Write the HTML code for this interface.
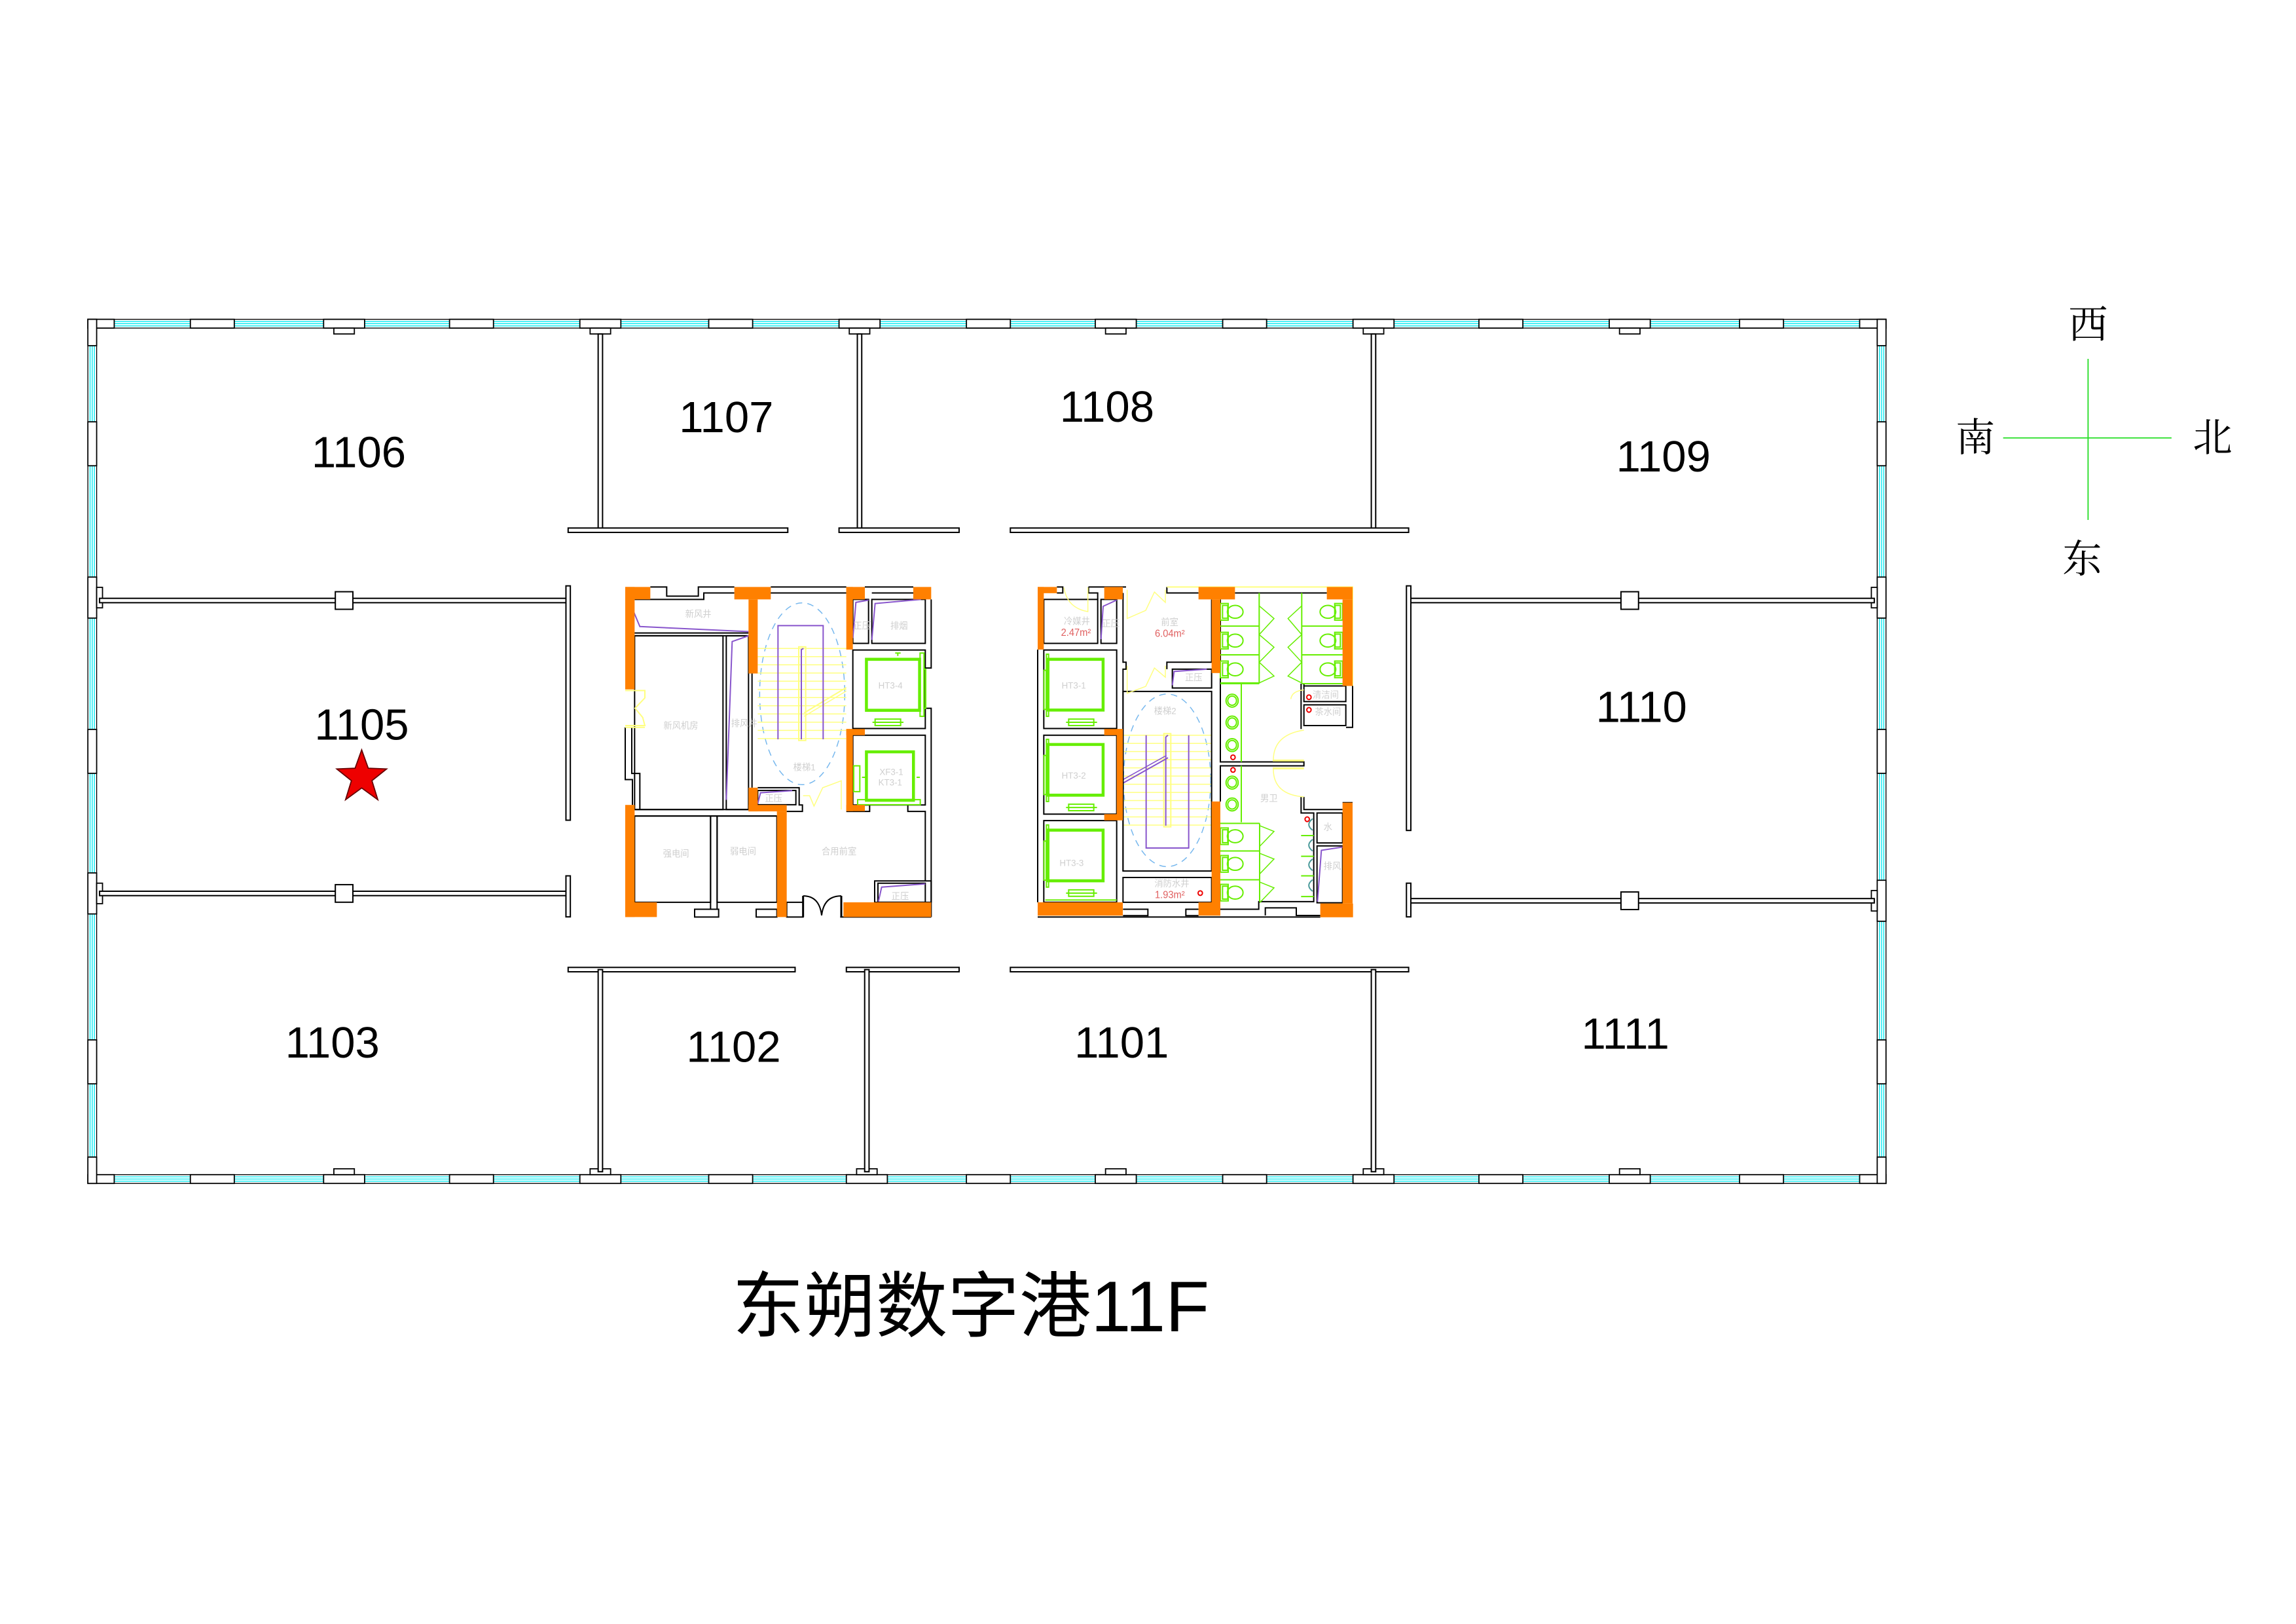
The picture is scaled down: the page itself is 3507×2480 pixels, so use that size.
<!DOCTYPE html>
<html><head><meta charset="utf-8">
<style>
html,body{margin:0;padding:0;background:#fff;}
svg{display:block;}
.t{font-family:"Liberation Sans","Noto Sans CJK SC",sans-serif;fill:#000;}
.s{font-family:"Liberation Serif","Noto Serif CJK SC",serif;fill:#000;}
.g{font-family:"Liberation Sans","Noto Sans CJK SC",sans-serif;fill:#cfcfcf;font-size:40px;}
.r{font-family:"Liberation Sans",sans-serif;fill:#e06060;font-size:44px;}
</style></head>
<body>
<svg id="s" width="3507" height="2480" viewBox="0 0 1568 1108.8" xmlns="http://www.w3.org/2000/svg">
<rect x="0" y="0" width="1568" height="1109" fill="#fff"/>
<g id="frame"></g>
<g id="walls" fill="#fff" stroke="#000" stroke-width="0.9"></g>
<g transform="scale(0.447106)">
 <g id="c1" transform="translate(950,890) scale(0.33333,0.3515)">
  <text class="g" x="290" y="150">新风井</text>
  <text class="g" x="190" y="635">新风机房</text>
  <text class="g" x="500" y="625">排风井</text>
  <text class="g" x="1060" y="200">正压</text>
  <text class="g" x="1230" y="200">排烟</text>
  <text class="g" x="1175" y="460">HT3-4</text>
  <text class="g" x="1180" y="835">XF3-1</text>
  <text class="g" x="1175" y="880">KT3-1</text>
  <text class="g" x="785" y="815">楼梯1</text>
  <text class="g" x="655" y="950">正压</text>
  <text class="g" x="188" y="1190">强电间</text>
  <text class="g" x="495" y="1180">弱电间</text>
  <text class="g" x="915" y="1180">合用前室</text>
  <text class="g" x="1235" y="1375">正压</text>
 </g>
 <g id="c2" transform="translate(1580,890) scale(0.33333,0.3515)">
  <text class="g" x="135" y="180">冷媒井</text>
  <text class="r" x="122" y="230">2.47m²</text>
  <text class="g" x="310" y="190">正压</text>
  <text class="g" x="580" y="185">前室</text>
  <text class="r" x="552" y="235">6.04m²</text>
  <text class="g" x="690" y="425">正压</text>
  <text class="g" x="125" y="460">HT3-1</text>
  <text class="g" x="125" y="850">HT3-2</text>
  <text class="g" x="115" y="1230">HT3-3</text>
  <text class="g" x="548" y="570">楼梯2</text>
  <text class="g" x="550" y="1320">消防水井</text>
  <text class="r" x="552" y="1370">1.93m²</text>
  <text class="g" x="1275" y="500">清洁间</text>
  <text class="g" x="1285" y="575">茶水间</text>
  <text class="g" x="1035" y="950">男卫</text>
  <text class="g" x="1325" y="1075">水</text>
  <text class="g" x="1325" y="1245">排风</text>
 </g>
</g>
<g class="t" font-size="30" text-anchor="middle">
<text x="245" y="319">1106</text>
<text x="496" y="295">1107</text>
<text x="756" y="288">1108</text>
<text x="1136" y="322">1109</text>
<text x="247" y="505">1105</text>
<text x="1121" y="493">1110</text>
<text x="227" y="722">1103</text>
<text x="501" y="725">1102</text>
<text x="766" y="722">1101</text>
<text x="1110" y="716">1111</text>
</g>
<polygon points="247,512 251.5,524.5 264,525 254,533 258,546 247,538 236,546 240,533 230,525 242.5,524.5" fill="#e00" stroke="#600" stroke-width="0.8"/>
<g stroke="#22dd22" stroke-width="0.8"><line x1="1426" y1="245" x2="1426" y2="355"/><line x1="1368" y1="299" x2="1483" y2="299"/></g>
<g class="s" font-size="27" text-anchor="middle">
<text x="1426" y="231">西</text>
<text x="1349" y="308">南</text>
<text x="1511" y="308">北</text>
<text x="1422" y="391">东</text>
</g>
<text x="663" y="909" class="t" font-size="49" text-anchor="middle">东朔数字港11F</text>
</svg>
<script>
var NS="http://www.w3.org/2000/svg";
function el(p,tag,a,first){var e=document.createElementNS(NS,tag);for(var k in a)e.setAttribute(k,a[k]);if(first)p.insertBefore(e,p.firstChild);else p.appendChild(e);return e;}
var F=document.getElementById('frame'),W=document.getElementById('walls');
function bandH(y,x1,x2){el(F,'rect',{x:x1,y:y,width:x2-x1,height:6,fill:'#fff',stroke:'#000','stroke-width':0.6});
 [1.5,3,4.5].forEach(function(o){el(F,'line',{x1:x1,y1:y+o,x2:x2,y2:y+o,stroke:'#00e8f0','stroke-width':0.6});});}
function bandV(x,y1,y2){el(F,'rect',{x:x,y:y1,width:6,height:y2-y1,fill:'#fff',stroke:'#000','stroke-width':0.6});
 [1.5,3,4.5].forEach(function(o){el(F,'line',{x1:x+o,y1:y1,x2:x+o,y2:y2,stroke:'#00e8f0','stroke-width':0.6});});}
bandH(218,60,1288);bandH(802,60,1288);bandV(60,218,808);bandV(1282,218,808);
function pier(x,y,w,h){el(F,'rect',{x:x,y:y,width:w,height:h,fill:'#fff',stroke:'#000','stroke-width':0.8});}
[130,307,484,660,835,1010,1188].forEach(function(x){pier(x,218,30,6);pier(x,802,30,6);});
function colT(x,top){var w=28;pier(x-w/2,top?218:802,w,6);pier(x-7,top?224:798,14,4);}
[235,410,587,762,938,1113].forEach(function(x){colT(x,true);});
[235,410,592,762,938,1113].forEach(function(x){colT(x,false);});
[288,498,710].forEach(function(y){pier(60,y,6,30);pier(1282,y,6,30);});
function colS(y,left){pier(left?60:1282,y-14,6,28);pier(left?66:1278,y-7,4,14);}
colS(408,true);colS(610,true);colS(408,false);colS(615,false);
pier(60,218,18,6);pier(60,218,6,18);pier(1270,218,18,6);pier(1282,218,6,18);
pier(60,802,18,6);pier(60,790,6,18);pier(1270,802,18,6);pier(1282,790,6,18);
function hw(y,x1,x2){el(W,'rect',{x:x1,y:y-1.5,width:x2-x1,height:3});}
function vw(x,y1,y2){el(W,'rect',{x:x-1.5,y:y1,width:3,height:y2-y1});}
vw(410,228,362);vw(587,228,362);vw(938,228,362);
hw(362,388,538);hw(362,573,655);hw(362,690,962);
hw(410,68,388);hw(610,68,388);vw(388,400,560);vw(388,598,626);
el(W,'rect',{x:229,y:404,width:12,height:12});el(W,'rect',{x:229,y:604,width:12,height:12});
hw(410,962,1280);hw(615,962,1280);vw(962,400,567);vw(962,603,626);
el(W,'rect',{x:1107,y:404,width:12,height:12});el(W,'rect',{x:1107,y:609,width:12,height:12});
hw(662,388,543);hw(662,578,655);hw(662,690,962);
vw(410,662,800);vw(592,662,800);vw(938,662,800);

var O='#ff8000',G='#66ee00',Y='#ffff80',P='#8855cc',B='#77b8ee',K='#000';
var g;
function R(x,y,w,h,s,f,sw){return el(g,'rect',{x:x,y:y,width:w,height:h,fill:f||'none',stroke:s||'none','stroke-width':sw||2,'vector-effect':'non-scaling-stroke'});}
function OR(x,y,w,h){R(x,y,w,h,null,O);}
function PL(pts,s,sw,dash){var a={points:pts,fill:'none',stroke:s||K,'stroke-width':sw||2,'vector-effect':'non-scaling-stroke'};if(dash)a['stroke-dasharray']=dash;return el(g,'polyline',a);}
function E(cx,cy,rx,ry,s,sw,dash){var a={cx:cx,cy:cy,rx:rx,ry:ry,fill:'none',stroke:s,'stroke-width':sw||2,'vector-effect':'non-scaling-stroke'};if(dash)a['stroke-dasharray']=dash;return el(g,'ellipse',a);}

/* ---------- LEFT CORE ---------- */
g=document.getElementById('c1');
R(15,18,1402,1434,null,'#fff');
E(826,482,195,395,B,1.5,'10 8');
for(var i=0;i<12;i++){var yy=285+i*35.6;PL('622,'+yy+' 1028,'+yy,Y,1.5);}
R(810,278,32,407,Y);PL('835,565 1028,455',Y,2);PL('835,580 1028,470',Y,1.5);
PL('715,680 715,186 922,186 922,680',P,2);PL('822,680 822,290 832,285',P,2);
PL('130,18 205,18 205,58 350,58 350,18 515,18',K);PL('58,72 375,72 375,44 515,44',K);
PL('682,18 1028,18',K);PL('622,44 1028,44',K);PL('1113,18 1335,18',K);PL('1145,44 1335,44',K);
PL('30,218 580,218',K);PL('30,230 580,230',K);
R(58,230,405,755,K);R(478,230,102,755,K);
PL('15,628 15,855 48,855 48,965',K);PL('45,628 45,828 82,828 82,985',K);
PL('596,394 596,890',K);PL('622,890 812,890 812,965 827,965 827,993 755,993',K);R(622,902,175,62,K);
R(1058,72,72,191,K);R(1145,72,245,191,K);
R(1058,292,332,341,K);R(1058,662,332,303,K);
PL('1417,72 1417,370 1390,370',K);PL('1390,545 1417,545 1417,1452',K);
PL('1113,965 1135,965 1135,993 1028,993',K);PL('1310,965 1310,993 1390,993 1390,1295',K);
PL('58,985 580,985',K);PL('58,1013 710,1013',K);
R(58,1013,348,375,K);R(406,1013,30,405,K);R(436,1013,274,375,K);
R(333,1418,110,34,K);R(615,1418,95,34,K);
R(1158,1295,259,93,K);R(1173,1305,217,83,K);
R(755,1388,75,64,K);PL('1000,1452 1417,1452',K);
PL('830,1360 830,1452',K,3);PL('1005,1360 1005,1452',K,3);
el(g,'path',{d:'M830,1360 Q905,1360 915,1445 M1005,1360 Q925,1360 915,1445',fill:'none',stroke:K,'stroke-width':2,'vector-effect':'non-scaling-stroke'});
PL('15,468 105,468 105,500 60,545 95,585 105,620 15,620',Y,2);PL('15,628 105,628',Y,2);
PL('830,925 860,925 880,970 920,890 1005,860 1005,985',Y,1.5);
PL('30,72 82,190 580,212',P);PL('580,230 505,255 478,943',P);
PL('1058,240 1072,85 1130,75',P);PL('1145,248 1160,90 1370,72',P);
PL('622,960 635,912 780,903',P);PL('1175,1385 1190,1322 1390,1308',P);
R(1118,330,248,226,G,null,3);R(1124,336,236,214,G);R(1160,592,117,28,G);PL('1148,606 1290,606',G);PL('1252,305 1277,305 1264,305 1264,318',G);
R(1366,305,18,275,G);R(1384,375,8,170,G);
R(1118,732,220,215,G,null,3);R(1124,738,208,203,G);R(1080,942,287,22,G);R(1062,795,28,112,G);
PL('1100,845 1115,845',G);PL('1350,845 1365,845',G);
[[15,18,115,54],[15,18,43,445],[515,18,167,54],[580,72,42,322],[1028,18,85,54],[1028,18,30,272],[1335,18,82,54],
 [15,965,43,487],[15,1388,145,64],[580,890,42,103],[580,965,175,28],[710,993,45,459],[1028,635,85,27],[1028,635,30,357],[1028,965,85,27],[1015,1388,402,64]]
 .forEach(function(a){OR(a[0],a[1],a[2],a[3]);});
Array.prototype.slice.call(g.querySelectorAll('text')).forEach(function(t){g.appendChild(t);});

/* ---------- RIGHT CORE ---------- */
g=document.getElementById('c2');
R(15,18,1445,1434,null,'#fff');
E(608,858,200,375,B,1.5,'10 8');
for(var j=0;j<12;j++){var y2=662+j*35.5;PL('406,'+y2+' 812,'+y2,Y,1.5);}
R(593,655,32,405,Y);
PL('512,662 512,1152 707,1152 707,662',P,2);PL('406,870 612,760',P,2);PL('406,855 605,750',P,1.5);PL('602,1055 602,670 612,662',P,2);
PL('103,18 130,18 130,44 103,44',K);PL('248,18 420,18',K);PL('248,18 248,44 290,44 290,72',K);
R(43,72,247,191,K);R(305,72,72,191,K);
PL('15,290 15,1388',K);
R(43,292,334,341,K);R(43,662,334,343,K);R(43,1033,334,355,K);
PL('406,44 406,345 420,345 420,375 406,375 406,1252',K);
PL('607,18 607,44 752,44',K);PL('812,72 812,345 607,345 607,375',K);R(632,375,180,82,K);
R(406,472,406,780,K);R(406,1280,406,108,K);
PL('406,1418 520,1418 520,1446 406,1446',K);PL('752,1418 694,1418 694,1446 752,1446',K);
PL('15,1452 1310,1452',K);
PL('919,44 1340,44',K);
PL('852,72 852,778 1235,778 1235,795 852,795 852,950',K);
PL('1222,438 1222,635',K);PL('1412,438 1235,438 1235,448',K);R(1235,448,192,68,K);R(1235,530,192,90,K);
PL('1458,448 1458,628 1428,628',K);PL('1222,930 1222,1000 1280,1000 1280,1385 1028,1385 1028,1418 852,1418',K);
PL('1235,930 1235,985 1412,985',K);PL('1412,955 1458,955',K);
R(1295,1000,117,130,K);R(1295,1143,117,247,K);
PL('1058,1445 1058,1412 1200,1412 1200,1445 1310,1445',K);
PL('607,18 1458,18 1458,448',Y,2);
el(g,'path',{d:'M135,20 Q150,110 245,125 L245,20',fill:'none',stroke:Y,'stroke-width':1.5,'vector-effect':'non-scaling-stroke'});
PL('425,30 425,155 510,120 550,40 600,85 600,30',Y,1.5);PL('425,360 425,480 510,450 550,370 600,410 600,360',Y,1.5);
el(g,'path',{d:'M1235,640 Q1095,660 1095,770 M1235,930 Q1095,920 1095,810 M1235,465 Q1180,470 1175,505',fill:'none',stroke:Y,'stroke-width':1.5,'vector-effect':'non-scaling-stroke'});
PL('1092,772 1235,772',Y,3);PL('1092,806 1235,806',Y,3);
[90,215,340].forEach(function(y){R(852,y,36,72,G);R(862,y+8,24,56,G);E(920,y+36,36,28,G);PL('852,'+(y+98)+' 1030,'+(y+98),G,2);});
[90,215,340].forEach(function(y){R(1376,y,36,72,G);R(1378,y+8,24,56,G);E(1345,y+36,36,28,G);PL('1225,'+(y+98)+' 1412,'+(y+98),G,2);});
PL('1030,44 1030,435 852,435',G,2);PL('1225,44 1225,435',G,2);
PL('1030,100 1098,155 1030,225 1098,280 1030,345 1098,405 1030,435',G,1.5);
PL('1225,100 1162,155 1225,225 1162,280 1225,345 1162,405 1225,435',G,1.5);
[512,607,705,868,963].forEach(function(y){E(906,y,28,28,G);E(906,y,20,20,G);});
PL('948,440 948,778',G,2);PL('948,795 948,1040',G,2);
[1045,1165,1290].forEach(function(y){R(852,y+20,36,72,G);R(862,y+28,24,56,G);E(920,y+56,36,28,G);PL('852,'+y+' 1032,'+y,G,2);PL('1032,'+(y+10)+' 1098,'+(y+35)+' 1032,'+(y+100),G,1.5);});
PL('1032,1045 1032,1385',G,2);
[1050,1140,1225,1315].forEach(function(y){el(g,'path',{d:'M1275,'+(y-25)+' Q1240,'+y+' 1275,'+(y+25),fill:'none',stroke:'#4a9a9a','stroke-width':2,'vector-effect':'non-scaling-stroke'});PL('1222,'+(y+48)+' 1280,'+(y+48),G,2);});
[[1258,497],[1258,552],[910,758],[910,813],[1250,1027],[760,1348]].forEach(function(p){E(p[0],p[1],10,10,'#ee0000',2);});
[330,700,1072].forEach(function(y){R(60,y,257,225,G,null,3);R(66,y+6,245,213,G);R(157,y+262,115,28,G);PL('145,'+(y+276)+' 287,'+(y+276),G);R(55,y-20,10,270,G);R(44,y+50,10,170,G);});
PL('50,1378 377,1378',G,2);
PL('305,245 315,102 377,75',P);PL('632,445 640,385 790,375',P);PL('1297,1385 1315,1162 1412,1148',P);
[[15,18,88,27],[15,18,28,272],[320,18,85,54],[752,18,167,54],[812,72,40,320],[1340,18,118,54],[1412,72,46,376],
 [320,635,85,27],[377,635,28,395],[320,1005,85,27],[15,1388,390,58],[752,1388,100,58],[812,950,40,495],[1412,955,46,438],[1310,1393,150,60]]
 .forEach(function(a){OR(a[0],a[1],a[2],a[3]);});
Array.prototype.slice.call(g.querySelectorAll('text')).forEach(function(t){g.appendChild(t);});
</script>
</body></html>
